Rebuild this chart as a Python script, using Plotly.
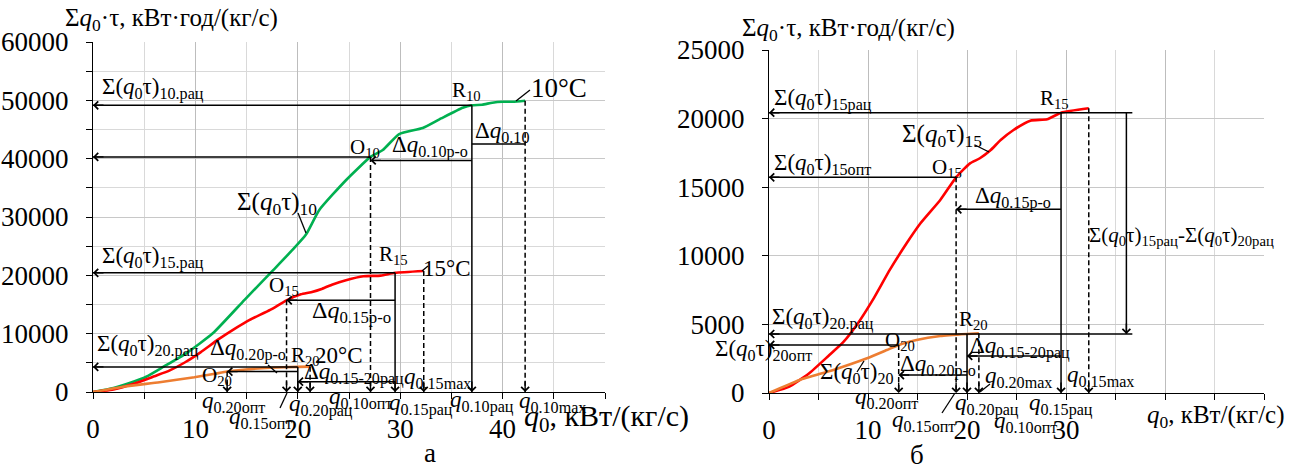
import plotly.graph_objects as go

# ---------------- data ----------------
q10 = [0, 2, 4, 5.2, 6.9, 9.1, 11.7, 14.8, 17.6, 19.5, 20.8, 22.1, 24.7, 27.1, 28.3, 29.9, 32.2, 34.0, 36.1, 37.0, 38.0, 39.0, 40.0, 41.0, 42.2]
s10 = [0, 700, 1800, 2620, 4340, 6630, 10060, 15800, 20900, 24400, 27000, 31200, 36300, 40300, 41480, 44220, 45250, 46900, 48730, 49150, 49250, 49600, 49760, 49750, 49930]

q15 = [0, 2, 4, 6, 7.5, 9, 10.5, 12.2, 13.9, 15.3, 17.3, 18.9, 20.3, 21.3, 22.4, 23.4, 24.7, 26.4, 28.1, 29.5, 32.3]
s15 = [0, 450, 1400, 2700, 3700, 5100, 6800, 8970, 10910, 12370, 14070, 15720, 16740, 17110, 17710, 18440, 19170, 19850, 19950, 20430, 20750]

q20 = [0, 3.1, 6.5, 9.9, 11.9, 13.1, 14.9, 17.3, 20.0, 21.2]
s20 = [0, 950, 1680, 2530, 3130, 3500, 3860, 4150, 4300, 4350]

# characteristic points
O10 = (27.1, 40300); R10 = (37.0, 49150); q10max = q10[-1]
O15 = (18.9, 15720); R15 = (29.5, 20430); q15max = q15[-1]
O20 = (13.1, 3500);  R20 = (20.0, 4300);  q20max = q20[-1]

# auxiliary dimension-line levels
dq10_ro_y = 39700
dq10_y = 42500
dq1520_left_y = 1770
dq15_ro_y = 13390
dq20_ro_y = 1310
dq1520_y = 2700
big_x = 36.1
ext_x = 36.7

x_major = [0, 10, 20, 30, 40, 50]
x_labels_a = ['0', '10', '20', '30', '40', '']
x_labels_b = ['0', '10', '20', '30', '', '']
y_major_a = [0, 10000, 20000, 30000, 40000, 50000, 60000]
y_major_b = [0, 5000, 10000, 15000, 20000, 25000]

# ---------------- figure ----------------
W, H = 1292, 470
FONT = "Liberation Serif"
GREEN, RED, ORANGE = "#00b050", "#ff0000", "#ed7d31"

fig = go.Figure()
for q, s, c, ax in [(q10, s10, GREEN, 1), (q15, s15, RED, 1), (q20, s20, ORANGE, 1),
                    (q15, s15, RED, 2), (q20, s20, ORANGE, 2)]:
    fig.add_trace(go.Scatter(x=q, y=s, mode="lines", line=dict(color=c, width=2.6, shape="spline", smoothing=0.5),
                             xaxis="x" if ax == 1 else "x2", yaxis="y" if ax == 1 else "y2",
                             showlegend=False, hoverinfo="skip"))

shapes, annots = [], []


def refs(ax):
    return ("x", "y") if ax == 1 else ("x2", "y2")


def seg(ax, x0, y0, x1, y1, dash="solid", width=1.5):
    xr, yr = refs(ax)
    shapes.append(dict(type="line", xref=xr, yref=yr, x0=x0, y0=y0, x1=x1, y1=y1,
                       line=dict(color="black", width=width, dash=dash)))


def head(ax, x, y, d):
    xr, yr = refs(ax)
    off = {"left": (12, 0), "down": (0, -12)}[d]
    annots.append(dict(xref=xr, yref=yr, x=x, y=y, ax=off[0], ay=off[1], text="", showarrow=True,
                       arrowhead=4, arrowsize=1.1, arrowwidth=1.4, arrowcolor="black"))


def harrow(ax, x_tip, x_end, y, dash="solid"):
    seg(ax, x_tip, y, x_end, y, dash)
    head(ax, x_tip, y, "left")


def varrow(ax, x, y_top, dash="solid", y_bot=0):
    seg(ax, x, y_top, x, y_bot, dash)
    head(ax, x, y_bot, "down")


def px_line(x0, y0, x1, y1, w=1.3):
    shapes.append(dict(type="line", xref="paper", yref="paper", x0=x0 / W, y0=1 - y0 / H, x1=x1 / W, y1=1 - y1 / H,
                       line=dict(color="black", width=w)))


def txt(x, y, s, size=23, xanchor="left"):
    annots.append(dict(xref="paper", yref="paper", x=x / W, y=1 - y / H, text=s, showarrow=False,
                       xanchor=xanchor, yanchor="middle", font=dict(family=FONT, size=size, color="black")))


DASH = "5px,3px"
S = "Σ(<i>q</i><sub>0</sub>τ)"
Q = "<i>q</i>"

# ---- panel a ----
harrow(1, 0, R10[0], R10[1])
harrow(1, 0, O10[0], O10[1])
varrow(1, R10[0], R10[1])
varrow(1, O10[0], O10[1], DASH)
varrow(1, q10max, s10[-1], DASH)
harrow(1, O10[0], R10[0], dq10_ro_y)
seg(1, R10[0], dq10_y, q10max, dq10_y)

harrow(1, 0, R15[0], R15[1])
varrow(1, R15[0], R15[1])
harrow(1, O15[0], R15[0], O15[1])
varrow(1, O15[0], O15[1], DASH)
varrow(1, q15max, s15[-1], DASH)

harrow(1, 0, R20[0], R20[1])
varrow(1, R20[0], R20[1])
harrow(1, O20[0], R20[0], O20[1])
varrow(1, O20[0], O20[1], DASH)
harrow(1, R20[0], R15[0], dq1520_left_y)
varrow(1, q20max, s20[-1], DASH)

# ---- panel b ----
harrow(2, 0, ext_x, R15[1])
harrow(2, 0, O15[0], O15[1])
varrow(2, O15[0], O15[1], DASH)
harrow(2, O15[0], R15[0], dq15_ro_y)
varrow(2, R15[0], R15[1])
varrow(2, q15max, s15[-1], DASH)
varrow(2, big_x, R15[1], "solid", R20[1])
harrow(2, 0, ext_x, R20[1])
harrow(2, 0, O20[0], O20[1])
varrow(2, O20[0], O20[1], DASH)
harrow(2, O20[0], R20[0], dq20_ro_y)
varrow(2, R20[0], R20[1])
harrow(2, R20[0], R15[0], dq1520_y)
varrow(2, q20max, s20[-1], DASH)

# ---- leader lines ----
px_line(516, 101, 530, 90)
px_line(298, 213, 306, 233)
px_line(268, 365, 277, 373)
px_line(280, 408, 287, 393)
px_line(422, 271, 428, 266)
px_line(975, 145, 989, 152)
px_line(857, 372, 864, 361)
px_line(942, 413, 955, 393)
px_line(980, 392, 990, 384)

# ---- texts panel a ----
txt(63, 20, "Σ<i>q</i><sub>0</sub>·τ, кВт·год/(кг/с)", 25)
txt(100, 88, S + "<sub>10.рац</sub>")
txt(450, 91, "R<sub>10</sub>", 21)
txt(348, 148, "O<sub>10</sub>", 21)
txt(390, 147, "Δ" + Q + "<sub>0.10р-о</sub>", 23)
txt(473, 132, "Δ" + Q + "<sub>0.10</sub>", 23)
txt(529, 88, "10°C", 27)
txt(235, 203, S + "<sub>10</sub>", 25)
txt(100, 257, S + "<sub>15.рац</sub>")
txt(377, 255, "R<sub>15</sub>", 21)
txt(421, 268, "15°C", 23)
txt(267, 286, "O<sub>15</sub>", 21)
txt(310, 312, "Δ" + Q + "<sub>0.15р-о</sub>", 24)
txt(95, 345, S + "<sub>20.рац</sub>")
txt(208, 349, "Δ" + Q + "<sub>0.20р-о</sub>")
txt(289, 356, "R<sub>20</sub>", 21)
txt(313, 355, "20°C", 23)
txt(200, 376, "O<sub>20</sub>", 21)
txt(302, 373, "Δ" + Q + "<sub>0.15-20рац</sub>")
txt(402, 378, Q + "<sub>0.15max</sub>")
txt(200, 402, Q + "<sub>0.20опт</sub>")
txt(227, 418, Q + "<sub>0.15опт</sub>")
txt(287, 405, Q + "<sub>0.20рац</sub>")
txt(327, 398, Q + "<sub>0.10опт</sub>")
txt(387, 404, Q + "<sub>0.15рац</sub>")
txt(448, 401, Q + "<sub>0.10рац</sub>")
txt(517, 402, Q + "<sub>0.10max</sub>")
txt(522, 418, Q + "<sub>0</sub>, кВт/(кг/с)", 30)
txt(430, 453, "а", 27, "center")

# ---- texts panel b ----
txt(740, 30, "Σ<i>q</i><sub>0</sub>·τ, кВт·год/(кг/с)", 25)
txt(772, 99, S + "<sub>15рац</sub>")
txt(900, 135, S + "<sub>15</sub>", 25)
txt(772, 164, S + "<sub>15опт</sub>")
txt(930, 168, "O<sub>15</sub>", 21)
txt(973, 197, "Δ" + Q + "<sub>0.15р-о</sub>")
txt(1038, 99, "R<sub>15</sub>", 21)
txt(1087, 236, S + "<sub>15рац</sub>-" + S + "<sub>20рац</sub>", 21)
txt(770, 318, S + "<sub>20.рац</sub>")
txt(883, 341, "O<sub>20</sub>", 21)
txt(713, 350, S + "<sub>20опт</sub>")
txt(818, 373, S + "<sub>20</sub>")
txt(898, 365, "Δ" + Q + "<sub>0.20р-о</sub>")
txt(957, 320, "R<sub>20</sub>", 21)
txt(968, 347, "Δ" + Q + "<sub>0.15-20рац</sub>")
txt(983, 377, Q + "<sub>0.20max</sub>")
txt(1065, 376, Q + "<sub>0.15max</sub>")
txt(853, 398, Q + "<sub>0.20опт</sub>")
txt(890, 421, Q + "<sub>0.15опт</sub>")
txt(953, 404, Q + "<sub>0.20рац</sub>")
txt(992, 422, Q + "<sub>0.10опт</sub>")
txt(1027, 404, Q + "<sub>0.15рац</sub>")
txt(1145, 416, Q + "<sub>0</sub>, кВт/(кг/с)", 25)
txt(917, 455, "б", 27, "center")

tickfont = dict(family=FONT, size=27, color="black")


def xax(domain, labels):
    return dict(domain=domain, range=[0, 50], tickmode="array", tickvals=x_major, ticktext=labels,
                ticks="outside", ticklen=6, tickcolor="black", tickwidth=1.2, showline=True, linecolor="black",
                linewidth=1.4, showgrid=True, gridcolor="#bdbdbd", gridwidth=1, zeroline=False,
                tickfont=tickfont, ticklabelstandoff=6, fixedrange=True, automargin=False,
                minor=dict(tickmode="linear", tick0=0, dtick=5, ticks="outside", ticklen=6, tickcolor="black",
                           showgrid=True, gridcolor="#d9d9d9", gridwidth=1))


def yax(domain, rng, vals, minor):
    d = dict(domain=domain, range=rng, tickmode="array", tickvals=vals, ticktext=[str(v) for v in vals],
             ticks="outside", ticklen=6, tickcolor="black", tickwidth=1.2, showline=True, linecolor="black",
             linewidth=1.4, showgrid=True, gridcolor="#c8c8c8", gridwidth=1, zeroline=False,
             tickfont=tickfont, ticklabelstandoff=12, fixedrange=True, automargin=False)
    if minor:
        d["minor"] = dict(tickmode="linear", tick0=0, dtick=5000, ticks="outside", ticklen=6, tickcolor="black",
                          showgrid=True, gridcolor="#d9d9d9", gridwidth=1)
    return d


fig.update_layout(
    width=W, height=H, autosize=False,
    margin=dict(l=0, r=0, t=0, b=0, autoexpand=False),
    paper_bgcolor="white", plot_bgcolor="white",
    showlegend=False,
    xaxis=xax([93 / W, 605 / W], x_labels_a),
    yaxis=yax([1 - 392 / H, 1 - 42 / H], [0, 60000], y_major_a, True),
    xaxis2=xax([769 / W, 1264 / W], x_labels_b),
    yaxis2=yax([1 - 393 / H, 1 - 50 / H], [0, 25000], y_major_b, False),
    shapes=shapes, annotations=annots,
    font=dict(family=FONT, color="black"),
)
fig.update_layout(xaxis2=dict(anchor="y2"), yaxis2=dict(anchor="x2"))

fig.write_html("out.html")
